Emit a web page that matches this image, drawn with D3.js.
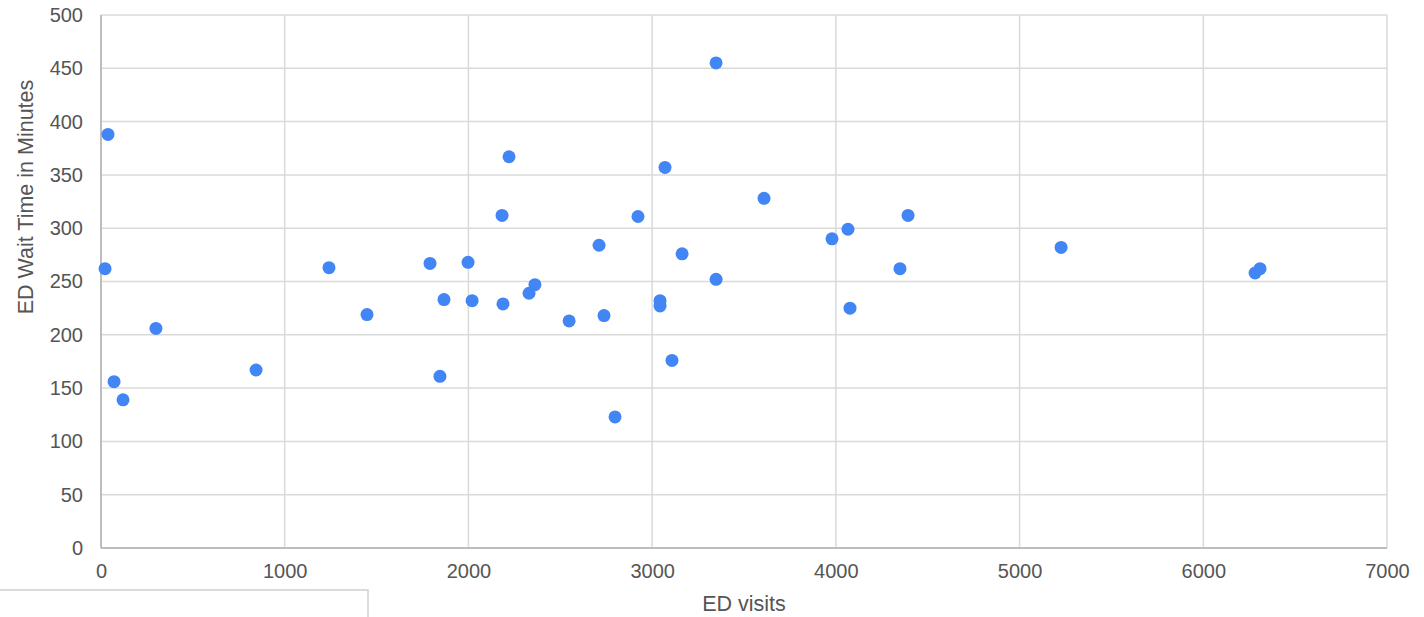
<html>
<head>
<meta charset="utf-8">
<title>ED Wait Time vs ED visits</title>
<style>
  body { margin: 0; background: #fff; }
  text { font-family: Arial, "Liberation Sans", sans-serif; fill: #555; }
</style>
<script src="https://d3js.org/d3.v7.min.js"></script>
</head>
<body>
<svg width="1424" height="617"></svg>
<script>
// ED visits (x) and wait time in minutes (y)
var visits = [38, 22, 299, 71, 120, 844, 1241, 1448, 1791, 1845, 1867, 1998, 2020, 2183, 2188,
              2221, 2330, 2362, 2548, 2711, 2738, 2798, 2923, 3043, 3043, 3070, 3108, 3163, 3348,
              3348, 3609, 3979, 4066, 4077, 4349, 4393, 5226, 6282, 6309];
var waits = [388, 262, 206, 156, 139, 167, 263, 219, 267, 161, 233, 268, 232, 312, 229,
             367, 239, 247, 213, 284, 218, 123, 311, 232, 227, 357, 176, 276, 455,
             252, 328, 290, 299, 225, 262, 312, 282, 258, 262];
var xTicks = [0, 1000, 2000, 3000, 4000, 5000, 6000, 7000];
var yTicks = [0, 50, 100, 150, 200, 250, 300, 350, 400, 450, 500];

var svg = d3.select("svg"),
    margin = {top: 15, right: 37, bottom: 69, left: 101},
    width = +svg.attr("width") - margin.left - margin.right,
    height = +svg.attr("height") - margin.top - margin.bottom,
    g = svg.append("g").attr("transform", `translate(${margin.left},${margin.top})`);

var x = d3.scaleLinear().domain([0, 7000]).range([0, width]);
var y = d3.scaleLinear().domain([0, 500]).range([height, 0]);

// gridlines
g.append("g")
  .selectAll("line.gx")
  .data(xTicks)
  .enter().append("line")
    .attr("x1", d => x(d)).attr("x2", d => x(d))
    .attr("y1", 0).attr("y2", height)
    .attr("stroke", "#dadada").attr("stroke-width", 1.5);

g.append("g")
  .selectAll("line.gy")
  .data(yTicks)
  .enter().append("line")
    .attr("x1", 0).attr("x2", width)
    .attr("y1", d => y(d)).attr("y2", d => y(d))
    .attr("stroke", "#dadada").attr("stroke-width", 1.5);

// axis baselines
g.append("line").attr("x1", 0).attr("x2", width).attr("y1", height).attr("y2", height)
  .attr("stroke", "#bdbdbd").attr("stroke-width", 2);
g.append("line").attr("x1", 0).attr("x2", 0).attr("y1", 0).attr("y2", height)
  .attr("stroke", "#bdbdbd").attr("stroke-width", 2);

// axes (labels only)
var xAxis = g.append("g")
  .attr("transform", `translate(0,${height})`)
  .call(d3.axisBottom(x).tickValues(xTicks).tickSize(0).tickPadding(16).tickFormat(d3.format("d")));
xAxis.select(".domain").remove();
xAxis.selectAll("text").style("font-size", "20px").attr("fill", "#555");

var yAxis = g.append("g")
  .call(d3.axisLeft(y).tickValues(yTicks).tickSize(0).tickPadding(18).tickFormat(d3.format("d")));
yAxis.select(".domain").remove();
yAxis.selectAll("text").style("font-size", "20px").attr("fill", "#555");

// points
g.append("g")
  .selectAll("circle")
  .data(visits.map((v, i) => ({x: v, y: waits[i]})))
  .enter().append("circle")
    .attr("cx", d => x(d.x))
    .attr("cy", d => y(d.y))
    .attr("r", 6.5)
    .attr("fill", "#4285f4");

// titles
svg.append("text")
  .text("ED visits")
  .attr("x", margin.left + width / 2)
  .attr("y", 611)
  .attr("text-anchor", "middle")
  .style("font-size", "21.5px");

svg.append("text")
  .text("ED Wait Time in Minutes")
  .attr("transform", "translate(33,197) rotate(-90)")
  .attr("text-anchor", "middle")
  .style("font-size", "21.5px");

// stray box at bottom left
svg.append("rect")
  .attr("x", -2).attr("y", 590)
  .attr("width", 370).attr("height", 40)
  .attr("fill", "none").attr("stroke", "#d0d0d0").attr("stroke-width", 1.5);
</script>
</body>
</html>
